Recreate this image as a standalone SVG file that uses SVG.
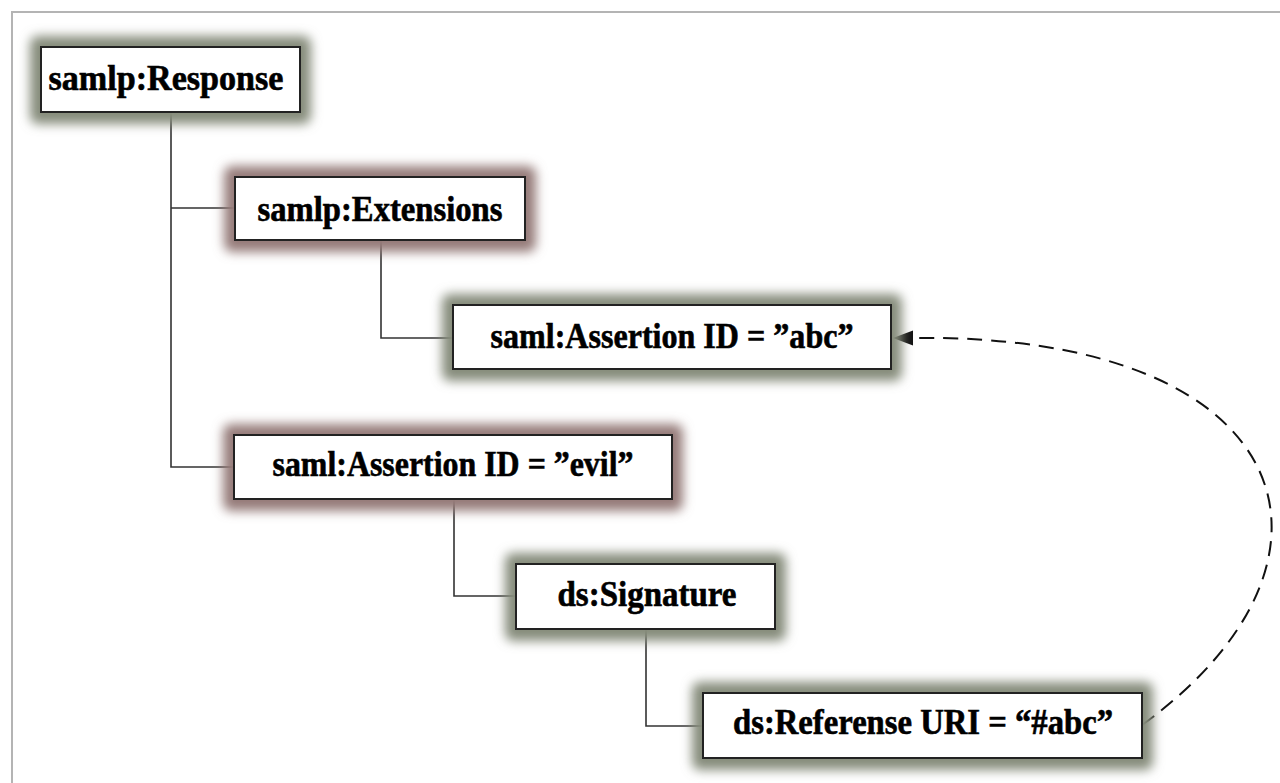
<svg xmlns="http://www.w3.org/2000/svg" width="1280" height="783" viewBox="0 0 1280 783">
  <defs>
    <filter id="halo" x="-30%" y="-60%" width="160%" height="220%">
      <feGaussianBlur stdDeviation="5.5"/>
    </filter>
  </defs>
  <style>
    .frame { fill: #ffffff; stroke: #b4b4b4; stroke-width: 2; }
    .glow-g { fill: #868c7b; filter: url(#halo); }
    .glow-p { fill: #957c79; filter: url(#halo); }
    .box { fill: #ffffff; stroke: #222222; stroke-width: 2; }
    .label { font-family: "Liberation Serif", "Times New Roman", serif; font-weight: bold; font-size: 35px; fill: #000; stroke: #000; stroke-width: 0.6; text-anchor: middle; }
    .tree { fill: none; stroke: #333333; stroke-width: 1.6; }
    .ref { fill: none; stroke: #111111; stroke-width: 2; stroke-dasharray: 15 9; }
    .head { fill: #111111; }
  </style>

  <rect x="0" y="0" width="1280" height="783" fill="#ffffff"/>
  <rect class="frame" x="12" y="12" width="1300" height="800"/>

  <!-- tree connectors and the dashed reference link -->
  <g id="connectors">
    <path class="tree" d="M171,112 V467 H234 M171,208 H235"/>
    <path class="tree" d="M381,240 V338 H453"/>
    <path class="tree" d="M454,499 V596 H516"/>
    <path class="tree" d="M646,629 V726 H703"/>
    <path class="ref" d="M1142,725 C1370,560 1300,332 910,338"/>
    <polygon class="head" points="893,338 913,330.5 913,345.5"/>
  </g>

  <g id="node-response">
    <rect class="glow-g" x="30" y="36" width="281" height="88" rx="8"/>
    <rect class="box" x="41" y="47" width="259" height="65"/>
    <text class="label" x="166" y="90" textLength="235" lengthAdjust="spacingAndGlyphs">samlp:Response</text>
  </g>

  <g id="node-extensions">
    <rect class="glow-p" x="224" y="166" width="312" height="86" rx="8"/>
    <rect class="box" x="235" y="177" width="290" height="63"/>
    <text class="label" x="380" y="221" textLength="245" lengthAdjust="spacingAndGlyphs">samlp:Extensions</text>
  </g>

  <g id="node-assertion-abc">
    <rect class="glow-g" x="442" y="294" width="460" height="87" rx="8"/>
    <rect class="box" x="453" y="305" width="438" height="64"/>
    <text class="label" x="672" y="348" textLength="363" lengthAdjust="spacingAndGlyphs">saml:Assertion ID = ”abc”</text>
  </g>

  <g id="node-assertion-evil">
    <rect class="glow-p" x="223" y="424" width="460" height="87" rx="8"/>
    <rect class="box" x="234" y="435" width="438" height="64"/>
    <text class="label" x="453" y="476" textLength="361" lengthAdjust="spacingAndGlyphs">saml:Assertion ID = ”evil”</text>
  </g>

  <g id="node-signature">
    <rect class="glow-g" x="505" y="553" width="281" height="88" rx="8"/>
    <rect class="box" x="516" y="564" width="259" height="65"/>
    <text class="label" x="647" y="606" textLength="179" lengthAdjust="spacingAndGlyphs">ds:Signature</text>
  </g>

  <g id="node-reference">
    <rect class="glow-g" x="692" y="682" width="461" height="88" rx="8"/>
    <rect class="box" x="703" y="693" width="439" height="65"/>
    <text class="label" x="923" y="734" textLength="380" lengthAdjust="spacingAndGlyphs">ds:Referense URI = “#abc”</text>
  </g>
</svg>
